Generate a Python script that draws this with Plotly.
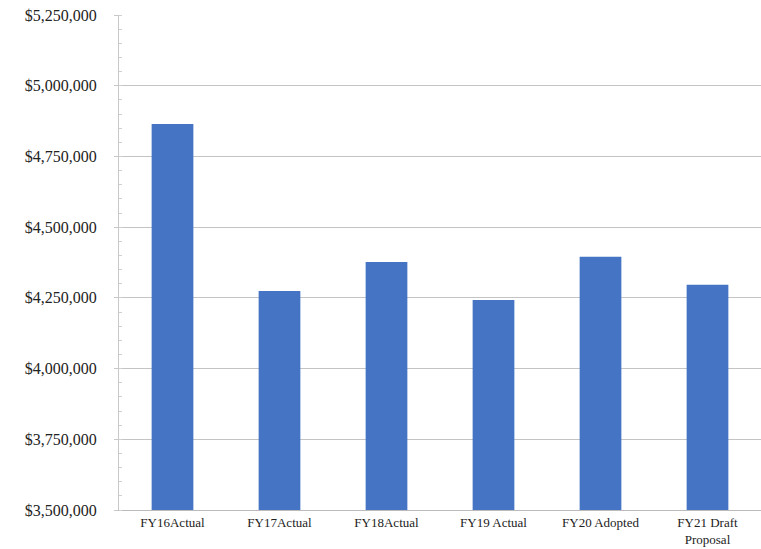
import plotly.graph_objects as go

categories = ["FY16Actual", "FY17Actual", "FY18Actual", "FY19 Actual", "FY20 Adopted", "FY21 Draft<br>Proposal"]
values = [4865000, 4274000, 4377000, 4242000, 4395000, 4296000]
tick_vals = [3500000, 3750000, 4000000, 4250000, 4500000, 4750000, 5000000, 5250000]
tick_text = ["${:,}".format(v) for v in tick_vals]

fig = go.Figure(go.Bar(x=categories, y=values, marker=dict(color="#4674C4", line=dict(width=0))))

fig.update_layout(
    width=761, height=549,
    margin=dict(l=119, r=0, t=15, b=39),
    paper_bgcolor="white", plot_bgcolor="white",
    bargap=0.61,
    showlegend=False,
    font=dict(family="Liberation Serif", color="#222222"),
)
fig.update_xaxes(
    showline=True, linecolor="#BBBBBB", linewidth=1,
    tickfont=dict(size=13, family="Liberation Serif"),
    ticks="", showgrid=False,
)
fig.update_yaxes(
    range=[3500000, 5250000], tickvals=tick_vals, ticktext=tick_text,
    showgrid=True, gridcolor="#C4C4C4", gridwidth=1,
    showline=True, linecolor="#C8C8C8", linewidth=1,
    tickfont=dict(size=16, family="Liberation Serif"),
    ticks="outside", ticklen=4, tickcolor="#C8C8C8",
    ticklabelstandoff=14,
    minor=dict(dtick=50000, ticks="inside", ticklen=3, tickcolor="#D0D0D0", showgrid=False),
    zeroline=False,
)

fig.write_html("out.html")
